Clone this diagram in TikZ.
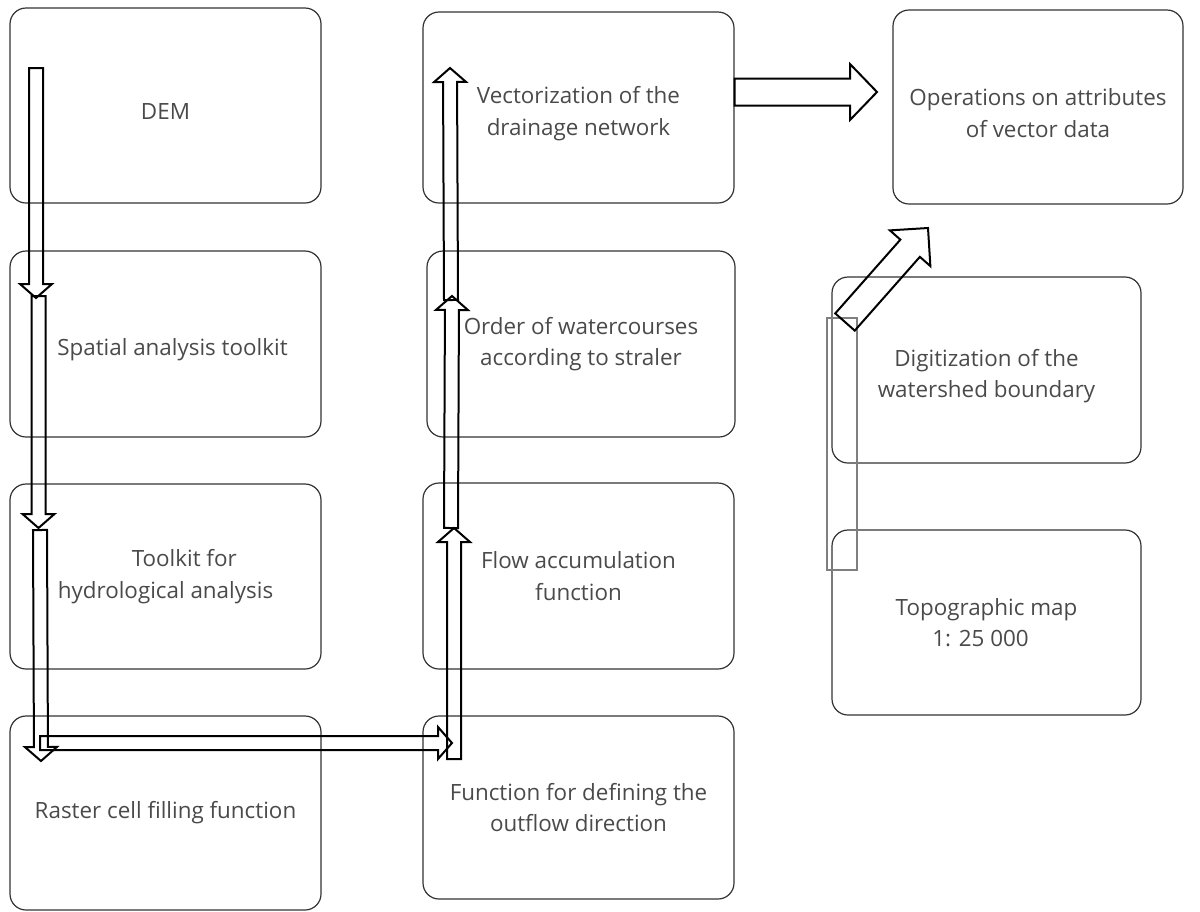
\documentclass[tikz,border=0pt]{standalone}
\usepackage{fontspec}
\setmainfont{Open Sans}
\usetikzlibrary{calc}
\definecolor{BoxGray}{HTML}{333333}
\definecolor{TextGray}{HTML}{4A4A4A}
\definecolor{FrameGray}{HTML}{7F7F7F}

\tikzset{
  stepbox/.style={draw=BoxGray, line width=.6pt, rounded corners=8pt, minimum width=155.5pt, minimum height=93pt,
    inner sep=0pt, align=center, text=TextGray, font=\fontsize{11.2}{15.8}\selectfont},
  blockline/.style={draw=black, line width=1pt, line join=miter},
}
% text set a little below the middle of its box
\newcommand\low[1]{\raisebox{-3pt}[\height][\depth]{#1}}

\begin{document}
\begin{tikzpicture}[x=.5pt, y=-.5pt]
	\useasboundingbox (0,0) rectangle (1200,911);

	% hollow block arrow: from, to, shaft half width, head half width, head length
	\newcommand\blockarrow[5]{%
		\coordinate (hb) at ($(#2)!#5!(#1)$);
		\draw[blockline] ($(#1)!#3!90:(#2)$) -- ($(hb)!#3!90:(#2)$) -- ($(hb)!#4!90:(#2)$) -- (#2)
			-- ($(hb)!#4!-90:(#2)$) -- ($(hb)!#3!-90:(#2)$) -- ($(#1)!#3!-90:(#2)$) -- cycle;
	}

	% raster column
	\node[stepbox, minimum height=97.5pt] (dem) at (165.5,105.5) {\low{DEM}};
	\node[stepbox] (spatial) at (165.5,344) {\low{\hspace*{7pt}Spatial analysis toolkit}};
	\node[stepbox, minimum height=92.5pt, align=left] (toolkit) at (165.5,576.5) {\hspace*{37pt}Toolkit for\\hydrological analysis};
	\node[stepbox, minimum height=97pt] (raster) at (165.5,813) {Raster cell filling function};

	% drainage column
	\node[stepbox, minimum height=95.5pt] (vector) at (578.5,107.5) {\low{Vectorization of the}\\\low{drainage network}};
	\node[stepbox, minimum width=154pt] (order) at (581,344) {Order of watercourses\\according to straler};
	\node[stepbox] (flow) at (578.5,576) {Flow accumulation\\function};
	\node[stepbox, minimum height=91.5pt] (outflow) at (578.5,807.5) {Function for defining the\\outflow direction};

	% vector data
	\node[stepbox, minimum width=145pt, minimum height=97pt] (attributes) at (1038,107) {\low{Operations on attributes}\\\low{of vector data}};
	\node[stepbox, minimum width=154.5pt] (watershed) at (986.5,370) {\low{Digitization of the}\\\low{watershed boundary}};
	\node[stepbox, minimum width=154.5pt, minimum height=92.5pt] (topomap) at (986.5,622.5) {Topographic map\\1: 25 000\hspace*{6pt}};

	\draw[FrameGray, line width=.8pt] (827,318) rectangle (857,570);

	% arrow ends
	\coordinate (dem-out) at (36,68);
	\coordinate (spatial-in) at (36,298);
	\coordinate (spatial-out) at (38.5,296);
	\coordinate (toolkit-in) at (38.5,528);
	\coordinate (toolkit-out) at (40,530);
	\coordinate (raster-in) at (41,761);
	\coordinate (raster-out) at (40,743);
	\coordinate (outflow-in) at (452,743);
	\coordinate (outflow-out) at (454,759);
	\coordinate (flow-in) at (454,528);
	\coordinate (flow-out) at (451,528);
	\coordinate (order-in) at (452,296);
	\coordinate (order-out) at (451,300);
	\coordinate (vector-in) at (450,68);
	\coordinate (vector-out) at (vector.east |- 0,92);
	\coordinate (attributes-in) at (877,92);
	\coordinate (watershed-out) at (845,322);
	\coordinate (attributes-low) at (928,228);

	\blockarrow{dem-out}{spatial-in}{3.5pt}{8pt}{7pt}
	\blockarrow{spatial-out}{toolkit-in}{3.5pt}{8pt}{7pt}
	\blockarrow{toolkit-out}{raster-in}{3.5pt}{8pt}{7pt}
	\blockarrow{raster-out}{outflow-in}{3.5pt}{8pt}{7pt}
	\blockarrow{outflow-out}{flow-in}{3.5pt}{8pt}{7pt}
	\blockarrow{flow-out}{order-in}{3.5pt}{8pt}{7pt}
	\blockarrow{order-out}{vector-in}{3.5pt}{8pt}{7pt}
	\blockarrow{vector-out}{attributes-in}{6.75pt}{14pt}{13.5pt}
	\blockarrow{watershed-out}{attributes-low}{6.5pt}{13.5pt}{13.5pt}
\end{tikzpicture}
\end{document}
